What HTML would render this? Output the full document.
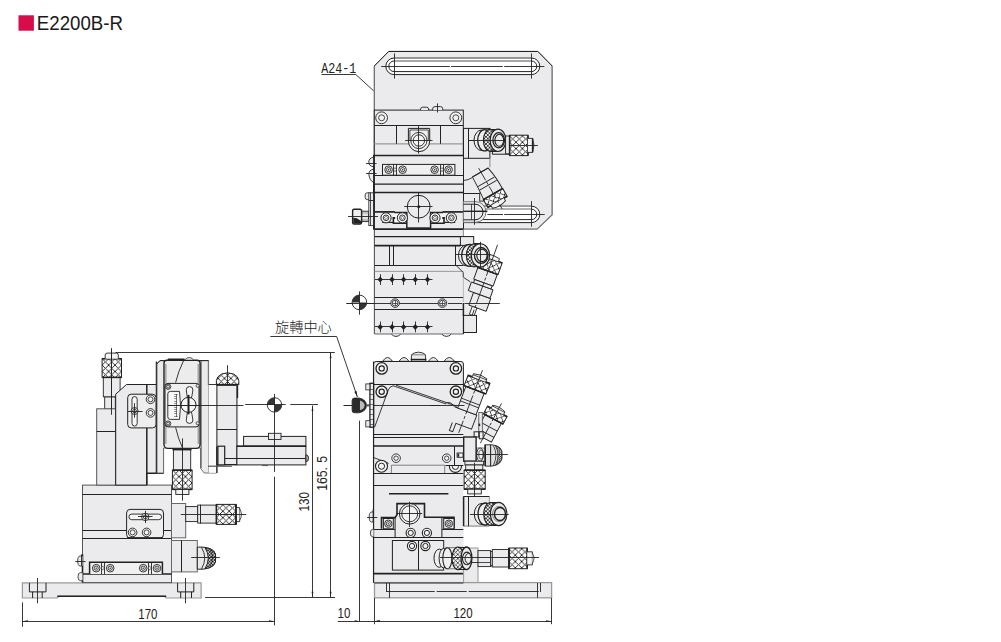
<!DOCTYPE html>
<html lang="zh-Hant">
<head>
<meta charset="utf-8">
<title>E2200B-R</title>
<style>
html,body{margin:0;padding:0;background:#fff;}
body{width:1001px;height:642px;overflow:hidden;font-family:"Liberation Sans","Noto Sans CJK TC",sans-serif;}
svg{display:block;}
</style>
</head>
<body>
<svg width="1001" height="642" viewBox="0 0 1001 642">
<defs>
<pattern id="h1" width="3.6" height="3.6" patternUnits="userSpaceOnUse"><rect width="3.6" height="3.6" fill="#f4f4f4"/><path d="M0,0L3.6,3.6 M3.6,0L0,3.6" stroke="#222" stroke-width="0.8" stroke-linecap="square"/></pattern>
<pattern id="k2" x="509.6" y="142.2" width="6.4" height="6.4" patternUnits="userSpaceOnUse"><rect width="6.4" height="6.4" fill="#fbfbfb"/><path d="M0,0L6.4,6.4 M6.4,0L0,6.4" stroke="#222" stroke-width="0.9" stroke-linecap="square"/></pattern>
<pattern id="k3" x="-3.2" y="28.6" width="6.4" height="6.4" patternUnits="userSpaceOnUse"><rect width="6.4" height="6.4" fill="#fbfbfb"/><path d="M0,0L6.4,6.4 M6.4,0L0,6.4" stroke="#222" stroke-width="0.9" stroke-linecap="square"/></pattern>
<pattern id="k4" x="-3.2" y="12.5" width="6.4" height="6.4" patternUnits="userSpaceOnUse"><rect width="6.4" height="6.4" fill="#fbfbfb"/><path d="M0,0L6.4,6.4 M6.4,0L0,6.4" stroke="#222" stroke-width="0.9" stroke-linecap="square"/></pattern>
<pattern id="h5" width="3.6" height="3.6" patternUnits="userSpaceOnUse"><rect width="3.6" height="3.6" fill="#f4f4f4"/><path d="M0,0L3.6,3.6 M3.6,0L0,3.6" stroke="#222" stroke-width="0.8" stroke-linecap="square"/></pattern>
<pattern id="k6" x="-3.2" y="0" width="6.4" height="6.4" patternUnits="userSpaceOnUse"><rect width="6.4" height="6.4" fill="#fbfbfb"/><path d="M0,0L6.4,6.4 M6.4,0L0,6.4" stroke="#222" stroke-width="0.9" stroke-linecap="square"/></pattern>
<pattern id="k7" x="-3.2" y="8.7" width="6.4" height="6.4" patternUnits="userSpaceOnUse"><rect width="6.4" height="6.4" fill="#fbfbfb"/><path d="M0,0L6.4,6.4 M6.4,0L0,6.4" stroke="#222" stroke-width="0.9" stroke-linecap="square"/></pattern>
<clipPath id="cpS"><rect x="440" y="465" width="30" height="10"/></clipPath>
<pattern id="h8" width="2.2" height="2.2" patternUnits="userSpaceOnUse"><rect width="2.2" height="2.2" fill="#ddd"/><path d="M0,0L2.2,2.2 M2.2,0L0,2.2" stroke="#222" stroke-width="0.6" stroke-linecap="square"/></pattern>
<pattern id="k9" x="471.45" y="470.2" width="6.4" height="6.4" patternUnits="userSpaceOnUse"><rect width="6.4" height="6.4" fill="#fbfbfb"/><path d="M0,0L6.4,6.4 M6.4,0L0,6.4" stroke="#222" stroke-width="0.9" stroke-linecap="square"/></pattern>
<pattern id="h10" width="3.6" height="3.6" patternUnits="userSpaceOnUse"><rect width="3.6" height="3.6" fill="#f4f4f4"/><path d="M0,0L3.6,3.6 M3.6,0L0,3.6" stroke="#222" stroke-width="0.8" stroke-linecap="square"/></pattern>
<pattern id="h11" width="4.2" height="4.2" patternUnits="userSpaceOnUse"><rect width="4.2" height="4.2" fill="#f2f2f2"/><path d="M0,0L4.2,4.2 M4.2,0L0,4.2" stroke="#222" stroke-width="0.7" stroke-linecap="square"/></pattern>
<pattern id="k12" x="508.9" y="555.15" width="6.4" height="6.4" patternUnits="userSpaceOnUse"><rect width="6.4" height="6.4" fill="#fbfbfb"/><path d="M0,0L6.4,6.4 M6.4,0L0,6.4" stroke="#222" stroke-width="0.9" stroke-linecap="square"/></pattern>
<pattern id="h13" width="3.2" height="3.2" patternUnits="userSpaceOnUse"><rect width="3.2" height="3.2" fill="#e0e0e0"/><path d="M0,0L3.2,3.2 M3.2,0L0,3.2" stroke="#222" stroke-width="0.8" stroke-linecap="square"/></pattern>
<pattern id="k14" x="216.4" y="511.2" width="6.4" height="6.4" patternUnits="userSpaceOnUse"><rect width="6.4" height="6.4" fill="#fbfbfb"/><path d="M0,0L6.4,6.4 M6.4,0L0,6.4" stroke="#222" stroke-width="0.9" stroke-linecap="square"/></pattern>
<pattern id="k15" x="108.6" y="358.7" width="6.4" height="6.4" patternUnits="userSpaceOnUse"><rect width="6.4" height="6.4" fill="#fbfbfb"/><path d="M0,0L6.4,6.4 M6.4,0L0,6.4" stroke="#222" stroke-width="0.9" stroke-linecap="square"/></pattern>
<pattern id="k16" x="179.05" y="470.2" width="6.4" height="6.4" patternUnits="userSpaceOnUse"><rect width="6.4" height="6.4" fill="#fbfbfb"/><path d="M0,0L6.4,6.4 M6.4,0L0,6.4" stroke="#222" stroke-width="0.9" stroke-linecap="square"/></pattern>
<clipPath id="cpD"><path d="M216.4,384.9 V380.4 Q216.8,376.4 221.6,374 Q227.6,371.6 233.6,374 Q238.4,376.4 238.8,380.4 V384.9 Z"/></clipPath>
<pattern id="k17" x="224.4" y="372" width="6.4" height="6.4" patternUnits="userSpaceOnUse"><rect width="6.4" height="6.4" fill="#fbfbfb"/><path d="M0,0L6.4,6.4 M6.4,0L0,6.4" stroke="#222" stroke-width="0.9" stroke-linecap="square"/></pattern>
</defs>
<rect x="18.5" y="15.3" width="15.4" height="15.4" fill="#d60c4b"/>
<text transform="translate(36.8 29.8) scale(0.89 1)" font-family="&quot;Liberation Sans&quot;, sans-serif" font-size="21" text-anchor="start" fill="#1a1a1a">E2200B-R</text>
<path d="M374.3,66 L388.8,51.3 L537.7,51.3 L552.2,66 L552.2,214.8 L537.2,229.1 L374.3,229.1 Z" fill="#ebebed" stroke="#777" stroke-width="0.8"/>
<line x1="374.3" y1="66" x2="388.8" y2="51.3" stroke="#222" stroke-width="1"/>
<line x1="388.8" y1="51.5" x2="537.7" y2="51.5" stroke="#222" stroke-width="1"/>
<line x1="537.7" y1="51.3" x2="552.2" y2="66" stroke="#222" stroke-width="1"/>
<line x1="374.3" y1="66" x2="374.3" y2="156" stroke="#666" stroke-width="1"/>
<line x1="552.2" y1="66" x2="552.2" y2="214.8" stroke="#8a8a8a" stroke-width="1.6"/>
<line x1="552.2" y1="214.8" x2="537.2" y2="229.1" stroke="#777" stroke-width="1.2"/>
<line x1="463" y1="229.1" x2="537.2" y2="229.1" stroke="#8a8a8a" stroke-width="1.4"/>
<path d="M394.1,58 H531.5 A8.3,8.3 0 0 1 531.5,74.6 H394.1 A8.3,8.3 0 0 1 394.1,58 Z" fill="#fff" stroke="#222" stroke-width="1"/>
<path d="M394.1,61 H531.5 A5.3,5.3 0 0 1 531.5,71.6 H394.1 A5.3,5.3 0 0 1 394.1,61 Z" fill="#fff" stroke="#222" stroke-width="1"/>
<line x1="394.1" y1="58" x2="531.5" y2="58" stroke="#9a9a9a" stroke-width="1.6"/>
<line x1="394.1" y1="61" x2="531.5" y2="61" stroke="#b0b0b0" stroke-width="1.4"/>
<line x1="381.2" y1="66.5" x2="544.4" y2="66.5" stroke="#222" stroke-width="0.9" stroke-dasharray="68.6 1.4 51.6 1.4 41"/>
<line x1="394.5" y1="53.4" x2="394.5" y2="78.6" stroke="#222" stroke-width="0.9"/>
<line x1="531.5" y1="53.4" x2="531.5" y2="78.6" stroke="#222" stroke-width="0.9"/>
<path d="M394.1,206.2 H531.6 A8.2,8.2 0 0 1 531.6,222.6 H394.1 A8.2,8.2 0 0 1 394.1,206.2 Z" fill="#fff" stroke="#222" stroke-width="1"/>
<path d="M394.1,209.2 H531.6 A5.2,5.2 0 0 1 531.6,219.6 H394.1 A5.2,5.2 0 0 1 394.1,209.2 Z" fill="#fff" stroke="#222" stroke-width="1"/>
<line x1="394.1" y1="206.2" x2="531.6" y2="206.2" stroke="#9a9a9a" stroke-width="1.6"/>
<line x1="394.1" y1="209.2" x2="531.6" y2="209.2" stroke="#b0b0b0" stroke-width="1.4"/>
<line x1="487.4" y1="214.5" x2="544.7" y2="214.5" stroke="#222" stroke-width="0.9" stroke-dasharray="15.6 1.2 41"/>
<line x1="531.5" y1="201.1" x2="531.5" y2="226.7" stroke="#222" stroke-width="0.9"/>
<text transform="translate(321.3 73) scale(0.78 1)" font-family="&quot;Liberation Mono&quot;, monospace" font-size="14.9" text-anchor="start" fill="#222">A24-1</text>
<line x1="321.5" y1="74.5" x2="355.8" y2="74.5" stroke="#222" stroke-width="0.9"/>
<line x1="355.8" y1="74.5" x2="373.6" y2="90.8" stroke="#222" stroke-width="0.9"/>
<rect x="374.3" y="110.1" width="89" height="45.4" fill="#ebebed" stroke="#222" stroke-width="1"/>
<line x1="374.3" y1="125.5" x2="463.3" y2="125.5" stroke="#222" stroke-width="1"/>
<line x1="374.3" y1="143.8" x2="463.3" y2="143.8" stroke="#999" stroke-width="1.3"/>
<line x1="396.5" y1="125.1" x2="396.5" y2="143.8" stroke="#222" stroke-width="1"/>
<line x1="440.5" y1="125.1" x2="440.5" y2="143.8" stroke="#222" stroke-width="1"/>
<circle cx="381.6" cy="117.8" r="5.9" fill="#f2f2f2" stroke="#222" stroke-width="0.9"/>
<circle cx="381.6" cy="117.8" r="3" fill="none" stroke="#222" stroke-width="0.81"/>
<circle cx="455.8" cy="117.8" r="5.9" fill="#f2f2f2" stroke="#222" stroke-width="0.9"/>
<circle cx="455.8" cy="117.8" r="3" fill="none" stroke="#222" stroke-width="0.81"/>
<path d="M420.6,110.1 V109 A2,2 0 0 1 422.6,107.2 H426.6 A2,2 0 0 1 428.6,109 V110.1" fill="#ebebed" stroke="#222" stroke-width="0.9"/>
<path d="M432.7,110.1 V108.8 A2.2,2.2 0 0 1 434.9,106.6 H440.5 A2.2,2.2 0 0 1 442.7,108.8 V110.1" fill="#ebebed" stroke="#222" stroke-width="0.9"/>
<line x1="437.5" y1="103.4" x2="437.5" y2="112.5" stroke="#222" stroke-width="0.9"/>
<path d="M408.4,128.4 H429.7 V141 A10.65,10.65 0 0 1 408.4,141 Z" fill="#f0f0f0" stroke="#222" stroke-width="1"/>
<path d="M409.9,140 V130 H428.3 V140" fill="none" stroke="#222" stroke-width="0.8"/>
<circle cx="418.9" cy="140.5" r="8.1" fill="#f4f4f4" stroke="#222" stroke-width="0.9"/>
<circle cx="418.9" cy="140.5" r="5.7" fill="none" stroke="#222" stroke-width="0.9"/>
<line x1="405.2" y1="140.5" x2="432.5" y2="140.5" stroke="#222" stroke-width="0.9"/>
<line x1="418.5" y1="126.1" x2="418.5" y2="153.6" stroke="#222" stroke-width="0.9"/>
<rect x="463.5" y="128.4" width="26.4" height="29.9" fill="#ebebed" stroke="#222" stroke-width="1"/>
<line x1="468.5" y1="128.4" x2="468.5" y2="158.3" stroke="#222" stroke-width="1"/>
<line x1="489.9" y1="158.3" x2="489.9" y2="167.3" stroke="#999" stroke-width="1.2"/>
<line x1="468.7" y1="140.5" x2="509.8" y2="140.5" stroke="#222" stroke-width="0.9"/>
<ellipse cx="481.5" cy="140.3" rx="7.5" ry="10.2" fill="#efefef" stroke="#222" stroke-width="1"/>
<ellipse cx="484.7" cy="140.3" rx="7" ry="10.6" fill="#efefef" stroke="#222" stroke-width="1.3"/>
<rect x="490" y="129.2" width="8" height="22.2" fill="url(#h1)"/>
<ellipse cx="490" cy="140.3" rx="6.6" ry="11" fill="url(#h1)" stroke="#222" stroke-width="1.1"/>
<line x1="490" y1="129.5" x2="498" y2="129.5" stroke="#222" stroke-width="1"/>
<line x1="490" y1="151.5" x2="498" y2="151.5" stroke="#222" stroke-width="1"/>
<ellipse cx="498" cy="140.3" rx="7.9" ry="11.2" fill="#ececec" stroke="#222" stroke-width="1.2"/>
<ellipse cx="498.7" cy="140.3" rx="5.8" ry="7.6" fill="#ececec" stroke="#222" stroke-width="1.3"/>
<ellipse cx="499.3" cy="140.3" rx="4.4" ry="6" fill="#ececec" stroke="#222" stroke-width="1.1"/>
<line x1="468.7" y1="140.5" x2="509.8" y2="140.5" stroke="#222" stroke-width="0.9"/>
<path d="M492.4,151 V154.2 H509.6" fill="none" stroke="#222" stroke-width="1"/>
<rect x="505.6" y="136" width="4" height="17.8" fill="#ebebed" stroke="#222" stroke-width="0.9"/>
<rect x="509.6" y="135.2" width="18.4" height="20.4" fill="url(#k2)" stroke="#222" stroke-width="1"/>
<line x1="509.6" y1="135.2" x2="509.6" y2="155.6" stroke="#222" stroke-width="1.5"/>
<line x1="528" y1="135.2" x2="528" y2="155.6" stroke="#222" stroke-width="1.5"/>
<line x1="509.6" y1="145.5" x2="527.9" y2="145.5" stroke="#222" stroke-width="0.9"/>
<path d="M527.9,138.4 H532.6 V152.4 H527.9" fill="#f4f4f4" stroke="#222" stroke-width="0.9"/>
<path d="M532.6,139.4 Q535.6,145.3 532.6,151.4 Z" fill="#c8c8c8" stroke="#222" stroke-width="0.8"/>
<line x1="532.6" y1="138.4" x2="532.6" y2="152.4" stroke="#222" stroke-width="1.5"/>
<line x1="527.9" y1="145.5" x2="537.9" y2="145.5" stroke="#222" stroke-width="0.9"/>
<rect x="373.6" y="155.5" width="89.7" height="73.5" fill="#ebebed"/>
<line x1="373.2" y1="155.5" x2="463.3" y2="155.5" stroke="#222" stroke-width="1.5"/>
<line x1="373.8" y1="155.5" x2="373.8" y2="228.8" stroke="#222" stroke-width="1.6"/>
<line x1="463.5" y1="155.5" x2="463.5" y2="228.8" stroke="#222" stroke-width="1"/>
<line x1="373.6" y1="175.5" x2="463.3" y2="175.5" stroke="#222" stroke-width="1"/>
<line x1="373.6" y1="184.2" x2="463.3" y2="184.2" stroke="#222" stroke-width="1.3"/>
<line x1="373.6" y1="192.5" x2="463.3" y2="192.5" stroke="#222" stroke-width="1.3"/>
<line x1="373.2" y1="229" x2="463.3" y2="229" stroke="#222" stroke-width="1.7"/>
<rect x="382.5" y="164.4" width="72.4" height="10.8" fill="#f0f0f0" stroke="#222" stroke-width="1"/>
<line x1="393.5" y1="164.4" x2="393.5" y2="175.2" stroke="#222" stroke-width="0.9"/>
<line x1="396.5" y1="164.4" x2="396.5" y2="175.2" stroke="#222" stroke-width="0.9"/>
<line x1="440.5" y1="164.4" x2="440.5" y2="175.2" stroke="#222" stroke-width="0.9"/>
<line x1="443.5" y1="164.4" x2="443.5" y2="175.2" stroke="#222" stroke-width="0.9"/>
<path d="M395,167.5 l1.3,2.2 l-1.3,2.2 l-1.3,-2.2 Z" fill="#fff" stroke="#222" stroke-width="0.5"/>
<path d="M441.95,167.5 l1.3,2.2 l-1.3,2.2 l-1.3,-2.2 Z" fill="#fff" stroke="#222" stroke-width="0.5"/>
<circle cx="388.6" cy="169.7" r="3.8" fill="#eee" stroke="#222" stroke-width="0.9"/>
<circle cx="388.6" cy="169.7" r="2.1" fill="none" stroke="#222" stroke-width="0.81"/>
<circle cx="388.6" cy="169.7" r="0.7" fill="#222"/>
<circle cx="402.6" cy="169.7" r="3.8" fill="#eee" stroke="#222" stroke-width="0.9"/>
<circle cx="402.6" cy="169.7" r="2.1" fill="none" stroke="#222" stroke-width="0.81"/>
<circle cx="402.6" cy="169.7" r="0.7" fill="#222"/>
<circle cx="434.6" cy="169.7" r="3.8" fill="#eee" stroke="#222" stroke-width="0.9"/>
<circle cx="434.6" cy="169.7" r="2.1" fill="none" stroke="#222" stroke-width="0.81"/>
<circle cx="434.6" cy="169.7" r="0.7" fill="#222"/>
<circle cx="448.6" cy="169.7" r="3.8" fill="#eee" stroke="#222" stroke-width="0.9"/>
<circle cx="448.6" cy="169.7" r="2.1" fill="none" stroke="#222" stroke-width="0.81"/>
<circle cx="448.6" cy="169.7" r="0.7" fill="#222"/>
<path d="M373.6,157 Q368.6,158.2 368.8,162.4 Q368.8,166 373.6,166.8" fill="#ebebed" stroke="#222" stroke-width="0.9"/>
<path d="M373.6,169.1 Q368.8,170 368.9,174.5 Q369.6,181 373.6,182.3" fill="#ebebed" stroke="#222" stroke-width="0.9"/>
<line x1="366.1" y1="163.5" x2="376.6" y2="163.5" stroke="#222" stroke-width="0.9"/>
<line x1="366.1" y1="173.5" x2="376.6" y2="173.5" stroke="#222" stroke-width="0.9"/>
<path d="M370.4,192.8 H367.2 A2,2 0 0 0 365.2,194.8 V197.6 A2,2 0 0 0 367.2,199.6 H370.4" fill="#ebebed" stroke="#333" stroke-width="0.9"/>
<rect x="368.8" y="192.8" width="5.2" height="32.8" fill="#ebebed" stroke="#333" stroke-width="0.9"/>
<line x1="370.5" y1="192.8" x2="370.5" y2="225.6" stroke="#222" stroke-width="0.8"/>
<line x1="368.8" y1="200.5" x2="374" y2="200.5" stroke="#222" stroke-width="0.9"/>
<line x1="374" y1="155.5" x2="374" y2="229.4" stroke="#222" stroke-width="1.7"/>
<circle cx="418.7" cy="206.7" r="11.4" fill="none" stroke="#222" stroke-width="1"/>
<line x1="404.2" y1="206.5" x2="432.5" y2="206.5" stroke="#222" stroke-width="0.9"/>
<line x1="418.5" y1="192.3" x2="418.5" y2="222.5" stroke="#222" stroke-width="0.9"/>
<path d="M418.7,204.7 l2,2 l-2,2 l-2,-2 Z" fill="#222"/>
<rect x="393.2" y="212.4" width="13.6" height="10.8" fill="#f7f7f7"/>
<path d="M374,211.9 H394.8" fill="none" stroke="#222" stroke-width="1.7"/>
<path d="M394.2,212.5 H406.8 V228.4" fill="none" stroke="#222" stroke-width="1.5"/>
<path d="M382.2,222.4 H393" fill="none" stroke="#222" stroke-width="1.2"/>
<path d="M393.4,217 V223.2 H406.8" fill="none" stroke="#222" stroke-width="1.6"/>
<circle cx="386" cy="217.8" r="5.1" fill="#f4f4f4" stroke="#222" stroke-width="1"/>
<circle cx="386" cy="217.8" r="2.8" fill="none" stroke="#222" stroke-width="0.9"/>
<path d="M386,216.2 l1.6,1.6 l-1.6,1.6 l-1.6,-1.6 Z" fill="#fff" stroke="#222" stroke-width="0.6"/>
<circle cx="402.4" cy="217.8" r="5.1" fill="#f4f4f4" stroke="#222" stroke-width="1"/>
<circle cx="402.4" cy="217.8" r="2.8" fill="none" stroke="#222" stroke-width="0.9"/>
<path d="M402.4,216.2 l1.6,1.6 l-1.6,1.6 l-1.6,-1.6 Z" fill="#fff" stroke="#222" stroke-width="0.6"/>
<rect x="392.9" y="217" width="2.2" height="2" fill="#222"/>
<rect x="430.6" y="212.4" width="13.6" height="10.8" fill="#f7f7f7"/>
<path d="M463.4,211.9 H442.6" fill="none" stroke="#222" stroke-width="1.7"/>
<path d="M443.2,212.5 H430.6 V228.4" fill="none" stroke="#222" stroke-width="1.5"/>
<path d="M455.2,222.4 H444.4" fill="none" stroke="#222" stroke-width="1.2"/>
<path d="M444,217 V223.2 H430.6" fill="none" stroke="#222" stroke-width="1.6"/>
<circle cx="451.4" cy="217.8" r="5.1" fill="#f4f4f4" stroke="#222" stroke-width="1"/>
<circle cx="451.4" cy="217.8" r="2.8" fill="none" stroke="#222" stroke-width="0.9"/>
<path d="M451.4,216.2 l1.6,1.6 l-1.6,1.6 l-1.6,-1.6 Z" fill="#fff" stroke="#222" stroke-width="0.6"/>
<circle cx="435" cy="217.8" r="5.1" fill="#f4f4f4" stroke="#222" stroke-width="1"/>
<circle cx="435" cy="217.8" r="2.8" fill="none" stroke="#222" stroke-width="0.9"/>
<path d="M435,216.2 l1.6,1.6 l-1.6,1.6 l-1.6,-1.6 Z" fill="#fff" stroke="#222" stroke-width="0.6"/>
<rect x="442.3" y="217" width="2.2" height="2" fill="#222"/>
<line x1="406.8" y1="228.2" x2="430.6" y2="228.2" stroke="#222" stroke-width="1.8"/>
<rect x="361.6" y="211.2" width="6.8" height="10.4" fill="#e6e6e6" stroke="#222" stroke-width="0.9"/>
<line x1="361.6" y1="213" x2="368.4" y2="213" stroke="#aaa" stroke-width="1.2"/>
<line x1="361.6" y1="220" x2="368.4" y2="220" stroke="#999" stroke-width="1.2"/>
<path d="M354.1,209.2 H360.1 A1.5,1.5 0 0 1 361.6,210.7 V222.5 A1.5,1.5 0 0 1 360.1,224 H354.1 A1.5,1.5 0 0 1 352.6,222.5 V210.7 A1.5,1.5 0 0 1 354.1,209.2 Z" fill="#f0f0f0" stroke="#222" stroke-width="1.4"/>
<path d="M353.3,217.8 L356.8,218.2 L361,221 V223.4 H353.3 Z" fill="#222"/>
<line x1="348" y1="216.5" x2="378" y2="216.5" stroke="#222" stroke-width="0.9"/>
<line x1="463.3" y1="193.5" x2="483.4" y2="193.5" stroke="#222" stroke-width="1"/>
<rect x="479.7" y="193" width="3.7" height="8.1" fill="#ebebed" stroke="#222" stroke-width="0.9"/>
<path d="M463.3,201.7 H476 A10,10.3 0 0 1 476,222.3 H463.3 Z" fill="#ebebed" stroke="#777" stroke-width="1"/>
<path d="M463.3,204.2 H475 A8,7.8 0 0 1 475,219.8 H463.3" fill="none" stroke="#222" stroke-width="1"/>
<line x1="463.3" y1="211.3" x2="487.4" y2="211.3" stroke="#222" stroke-width="1.4"/>
<line x1="474.5" y1="198" x2="474.5" y2="224.8" stroke="#222" stroke-width="0.9"/>
<line x1="471.5" y1="204.2" x2="471.5" y2="219.8" stroke="#222" stroke-width="0.8"/>
<g transform="translate(478.7 169.3) rotate(-30)">
<path d="M-9.3,3.7 H8.8 Q11.5,17 10.8,29 H-10.8 Q-9.6,16 -9.3,3.7 Z" fill="#ebebed" stroke="#222" stroke-width="0.9"/>
<line x1="-9.3" y1="3.5" x2="8.8" y2="3.5" stroke="#222" stroke-width="0.9"/>
<line x1="-9.4" y1="14.5" x2="9.6" y2="14.5" stroke="#222" stroke-width="0.9"/>
<line x1="-9.6" y1="18.5" x2="10" y2="18.5" stroke="#222" stroke-width="0.9"/>
<rect x="-11.2" y="28.6" width="22.4" height="9" fill="url(#k3)" stroke="#222" stroke-width="1"/>
<line x1="-11.2" y1="28.6" x2="11.2" y2="28.6" stroke="#222" stroke-width="1.5"/>
<line x1="-11.2" y1="37.6" x2="11.2" y2="37.6" stroke="#222" stroke-width="1.5"/>
<path d="M-7.5,37.6 V40.6 Q0,43.4 7.5,40.6 V37.6" fill="#f4f4f4" stroke="#222" stroke-width="0.9"/>
<line x1="0.5" y1="-1" x2="0.5" y2="46" stroke="#222" stroke-width="0.8" stroke-dasharray="14 2 3 2"/>
</g>
<path d="M463.3,180.5 Q468,180.3 472.3,177.6" fill="none" stroke="#222" stroke-width="0.9"/>
<path d="M463.4,258 L482,258 L469,316 L463.4,316 Z" fill="#ebebed"/>
<g transform="translate(496.1 247.4) rotate(19.8)">
<line x1="0.5" y1="-3" x2="0.5" y2="80" stroke="#222" stroke-width="0.8" stroke-dasharray="22 2 3 2"/>
<rect x="-6" y="50" width="18.3" height="13.5" fill="#ebebed" stroke="#222" stroke-width="0.9"/>
<rect x="-2.5" y="63.5" width="5" height="8.5" fill="#f2f2f2" stroke="#222" stroke-width="0.8"/>
<rect x="-10.3" y="25" width="20.6" height="12.5" fill="#ebebed" stroke="#222" stroke-width="0.9"/>
<rect x="-9.3" y="37.5" width="18.6" height="3.5" fill="#ebebed" stroke="#222" stroke-width="0.9"/>
<rect x="-11.5" y="41" width="23" height="9" fill="#ebebed" stroke="#222" stroke-width="0.9"/>
<rect x="-11" y="12.5" width="22" height="12.5" fill="url(#k4)" stroke="#222" stroke-width="1"/>
<line x1="-11" y1="12.5" x2="11" y2="12.5" stroke="#222" stroke-width="1.5"/>
<line x1="-11" y1="25" x2="11" y2="25" stroke="#222" stroke-width="1.5"/>
<path d="M-7,12.5 V9.5 Q0,7.5 7,9.5 V12.5" fill="#f4f4f4" stroke="#222" stroke-width="0.8"/>
<line x1="0.5" y1="8" x2="0.5" y2="76" stroke="#222" stroke-width="0.8" stroke-dasharray="22 2 3 2"/>
</g>
<rect x="374.6" y="229.1" width="88.8" height="104.9" fill="#ebebed"/>
<line x1="374.4" y1="229" x2="374.4" y2="334" stroke="#555" stroke-width="1.1"/>
<line x1="463.4" y1="229" x2="463.4" y2="236.6" stroke="#999" stroke-width="1.2"/>
<line x1="374.6" y1="229.5" x2="463.4" y2="229.5" stroke="#222" stroke-width="1"/>
<line x1="374.6" y1="236.6" x2="473.8" y2="236.6" stroke="#222" stroke-width="1.4"/>
<rect x="460.4" y="236.6" width="13.3" height="8.8" fill="#ebebed" stroke="#222" stroke-width="1"/>
<line x1="374.6" y1="245.6" x2="460.5" y2="245.6" stroke="#222" stroke-width="1.6"/>
<line x1="374.6" y1="265.5" x2="463.4" y2="265.5" stroke="#222" stroke-width="1"/>
<line x1="374.6" y1="271.4" x2="463.4" y2="271.4" stroke="#888" stroke-width="0.8"/>
<line x1="374.6" y1="297.5" x2="463.4" y2="297.5" stroke="#222" stroke-width="1"/>
<line x1="374.6" y1="309.5" x2="463.4" y2="309.5" stroke="#222" stroke-width="1"/>
<line x1="374.6" y1="334" x2="463.4" y2="334" stroke="#666" stroke-width="1.2"/>
<line x1="389.5" y1="245.6" x2="389.5" y2="265.2" stroke="#222" stroke-width="1"/>
<line x1="393.5" y1="245.6" x2="393.5" y2="265.2" stroke="#222" stroke-width="1"/>
<line x1="455.5" y1="245.6" x2="455.5" y2="265.2" stroke="#222" stroke-width="1"/>
<path d="M456.2,265.5 L463.25,272.5 V277.2 L470.3,281.9" fill="none" stroke="#222" stroke-width="0.9"/>
<line x1="463.5" y1="245.6" x2="463.5" y2="265.2" stroke="#222" stroke-width="1"/>
<line x1="463.4" y1="277.2" x2="463.4" y2="302" stroke="#aaa" stroke-width="0.8"/>
<line x1="463.4" y1="303" x2="463.4" y2="316" stroke="#222" stroke-width="1.5"/>
<rect x="463.4" y="315.4" width="13.1" height="17.1" fill="#ebebed" stroke="#222" stroke-width="1"/>
<line x1="463.5" y1="314.7" x2="463.5" y2="334" stroke="#222" stroke-width="1.1"/>
<line x1="375" y1="279.5" x2="432.5" y2="279.5" stroke="#222" stroke-width="0.9"/>
<line x1="380.5" y1="274.2" x2="380.5" y2="285" stroke="#222" stroke-width="0.9"/>
<path d="M380.2,276.6 l2.7,3 l-2.7,3 l-2.7,-3 Z" fill="#222"/>
<line x1="392.5" y1="274.2" x2="392.5" y2="285" stroke="#222" stroke-width="0.9"/>
<path d="M392,276.6 l2.7,3 l-2.7,3 l-2.7,-3 Z" fill="#222"/>
<line x1="403.5" y1="274.2" x2="403.5" y2="285" stroke="#222" stroke-width="0.9"/>
<path d="M403.6,276.6 l2.7,3 l-2.7,3 l-2.7,-3 Z" fill="#222"/>
<line x1="415.5" y1="274.2" x2="415.5" y2="285" stroke="#222" stroke-width="0.9"/>
<path d="M415.3,276.6 l2.7,3 l-2.7,3 l-2.7,-3 Z" fill="#222"/>
<line x1="427.5" y1="274.2" x2="427.5" y2="285" stroke="#222" stroke-width="0.9"/>
<path d="M427.5,276.6 l2.7,3 l-2.7,3 l-2.7,-3 Z" fill="#222"/>
<line x1="375" y1="326.5" x2="432.5" y2="326.5" stroke="#222" stroke-width="0.9"/>
<line x1="380.5" y1="321.5" x2="380.5" y2="332.3" stroke="#222" stroke-width="0.9"/>
<path d="M380.2,323.9 l2.7,3 l-2.7,3 l-2.7,-3 Z" fill="#222"/>
<line x1="392.5" y1="321.5" x2="392.5" y2="332.3" stroke="#222" stroke-width="0.9"/>
<path d="M392,323.9 l2.7,3 l-2.7,3 l-2.7,-3 Z" fill="#222"/>
<line x1="403.5" y1="321.5" x2="403.5" y2="332.3" stroke="#222" stroke-width="0.9"/>
<path d="M403.6,323.9 l2.7,3 l-2.7,3 l-2.7,-3 Z" fill="#222"/>
<line x1="415.5" y1="321.5" x2="415.5" y2="332.3" stroke="#222" stroke-width="0.9"/>
<path d="M415.3,323.9 l2.7,3 l-2.7,3 l-2.7,-3 Z" fill="#222"/>
<line x1="427.5" y1="321.5" x2="427.5" y2="332.3" stroke="#222" stroke-width="0.9"/>
<path d="M427.5,323.9 l2.7,3 l-2.7,3 l-2.7,-3 Z" fill="#222"/>
<line x1="346.5" y1="303.5" x2="446" y2="303.5" stroke="#222" stroke-width="0.9"/>
<line x1="448" y1="303.5" x2="462" y2="303.5" stroke="#222" stroke-width="0.9"/>
<line x1="464.5" y1="303.5" x2="499.8" y2="303.5" stroke="#222" stroke-width="0.9"/>
<circle cx="395.1" cy="303.1" r="4.3" fill="#f4f4f4" stroke="#222" stroke-width="0.9"/>
<circle cx="395.1" cy="303.1" r="2.9" fill="none" stroke="#222" stroke-width="0.81"/>
<line x1="392.5" y1="303.5" x2="397.7" y2="303.5" stroke="#222" stroke-width="0.7"/>
<line x1="395.5" y1="300.5" x2="395.5" y2="305.7" stroke="#222" stroke-width="0.7"/>
<circle cx="442.4" cy="303.1" r="4.3" fill="#f4f4f4" stroke="#222" stroke-width="0.9"/>
<circle cx="442.4" cy="303.1" r="2.9" fill="none" stroke="#222" stroke-width="0.81"/>
<line x1="439.8" y1="303.5" x2="445" y2="303.5" stroke="#222" stroke-width="0.7"/>
<line x1="442.5" y1="300.5" x2="442.5" y2="305.7" stroke="#222" stroke-width="0.7"/>
<path d="M391.4,334.3 Q396,338.6 400.6,334.3" fill="#ebebed" stroke="#222" stroke-width="0.9"/>
<path d="M441.9,334.3 Q446.5,338.6 451.1,334.3" fill="#ebebed" stroke="#222" stroke-width="0.9"/>
<circle cx="359.4" cy="302.4" r="7.3" fill="#fff" stroke="#222" stroke-width="0.9"/>
<path d="M359.4,302.4 L352.1,302.4 A7.3,7.3 0 0 1 359.4,295.1 Z" fill="#333"/>
<path d="M359.4,302.4 L366.7,302.4 A7.3,7.3 0 0 1 359.4,309.7 Z" fill="#333"/>
<line x1="346.5" y1="303.5" x2="374" y2="303.5" stroke="#222" stroke-width="0.9"/>
<line x1="359.5" y1="291.4" x2="359.5" y2="314.7" stroke="#222" stroke-width="0.9"/>
<ellipse cx="467.2" cy="255.4" rx="8.7" ry="10.61" fill="#efefef" stroke="#222" stroke-width="1"/>
<ellipse cx="469.76" cy="255.4" rx="8.12" ry="11.02" fill="#efefef" stroke="#222" stroke-width="1.3"/>
<rect x="474" y="243.86" width="6.4" height="23.09" fill="url(#h5)"/>
<ellipse cx="474" cy="255.4" rx="7.66" ry="11.44" fill="url(#h5)" stroke="#222" stroke-width="1.1"/>
<line x1="474" y1="243.5" x2="480.4" y2="243.5" stroke="#222" stroke-width="1"/>
<line x1="474" y1="266.5" x2="480.4" y2="266.5" stroke="#222" stroke-width="1"/>
<ellipse cx="480.4" cy="255.4" rx="9.16" ry="11.65" fill="#ececec" stroke="#222" stroke-width="1.2"/>
<ellipse cx="481.21" cy="255.4" rx="6.73" ry="7.9" fill="#ececec" stroke="#222" stroke-width="1.3"/>
<ellipse cx="481.91" cy="255.4" rx="5.1" ry="6.24" fill="#ececec" stroke="#222" stroke-width="1.1"/>
<line x1="455.9" y1="254.5" x2="490.5" y2="254.5" stroke="#222" stroke-width="0.9"/>
<line x1="480.5" y1="241.8" x2="480.5" y2="268.4" stroke="#222" stroke-width="0.9"/>
<path d="M373.6,364 A2.5,2.5 0 0 1 376.1,361.5 H460.9 A2.5,2.5 0 0 1 463.4,364 V583 H373.6 Z" fill="#ebebed"/>
<path d="M411.4,361.3 V356 Q411.6,353.6 414.5,352.9 Q418.5,351.4 422.5,352.9 Q425.4,353.6 425.6,356 V361.3" fill="#ebebed" stroke="#222" stroke-width="0.9"/>
<line x1="411.4" y1="354.8" x2="425.6" y2="354.8" stroke="#666" stroke-width="0.8"/>
<line x1="410.6" y1="359.6" x2="426.4" y2="359.6" stroke="#222" stroke-width="1.6"/>
<path d="M382.6,361.3 Q387.55,353.6 392.5,361.3 Z" fill="#ebebed" stroke="#222" stroke-width="0.9"/>
<path d="M399,361.3 Q404,353.6 409,361.3 Z" fill="#ebebed" stroke="#222" stroke-width="0.9"/>
<path d="M428.4,361.3 Q433.3,353.6 438.2,361.3 Z" fill="#ebebed" stroke="#222" stroke-width="0.9"/>
<path d="M444,361.3 Q449.3,353.6 454.6,361.3 Z" fill="#ebebed" stroke="#222" stroke-width="0.9"/>
<path d="M373.6,583 V364 A2.5,2.5 0 0 1 376.1,361.5 H460.9 A2.5,2.5 0 0 1 463.4,364 V392" fill="none" stroke="#222" stroke-width="1"/>
<line x1="373.5" y1="361.5" x2="373.5" y2="583" stroke="#222" stroke-width="1.1"/>
<circle cx="381.7" cy="368.4" r="5.7" fill="#f4f4f4" stroke="#222" stroke-width="1.3"/>
<circle cx="381.7" cy="368.4" r="2.6" fill="none" stroke="#222" stroke-width="1.17"/>
<circle cx="455.9" cy="368.4" r="5.7" fill="#f4f4f4" stroke="#222" stroke-width="1.3"/>
<circle cx="455.9" cy="368.4" r="2.6" fill="none" stroke="#222" stroke-width="1.17"/>
<circle cx="381.7" cy="391.7" r="5.7" fill="#f4f4f4" stroke="#222" stroke-width="1.3"/>
<circle cx="381.7" cy="391.7" r="2.6" fill="none" stroke="#222" stroke-width="1.17"/>
<circle cx="455.9" cy="391.7" r="5.7" fill="#f4f4f4" stroke="#222" stroke-width="1.3"/>
<circle cx="455.9" cy="391.7" r="2.6" fill="none" stroke="#222" stroke-width="1.17"/>
<line x1="373.6" y1="384.5" x2="463.4" y2="384.5" stroke="#222" stroke-width="1"/>
<path d="M374.6,427.2 L388.4,389.8 Q389.5,386.4 393.2,385.8 L456.1,407.4" fill="none" stroke="#222" stroke-width="0.9"/>
<path d="M396,385.2 L457,406.2 " fill="none" stroke="#222" stroke-width="0.9"/>
<line x1="343.7" y1="405.5" x2="352" y2="405.5" stroke="#222" stroke-width="0.9"/>
<line x1="366" y1="405.5" x2="440" y2="405.5" stroke="#222" stroke-width="0.9"/>
<path d="M445.3,403.4 q3.8,-2.6 7.6,1.4" fill="none" stroke="#222" stroke-width="0.8"/>
<g transform="translate(497.3 411.35) rotate(28)">
<rect x="-9.3" y="8.6" width="18.6" height="21.4" fill="#ebebed" stroke="#222" stroke-width="0.9"/>
<line x1="-9.3" y1="17.5" x2="9.3" y2="17.5" stroke="#222" stroke-width="0.9"/>
<line x1="-9.3" y1="24.5" x2="9.3" y2="24.5" stroke="#222" stroke-width="0.9"/>
<rect x="-11.1" y="0" width="22.2" height="8.6" fill="url(#k6)" stroke="#222" stroke-width="1"/>
<line x1="-11.1" y1="0" x2="11.1" y2="0" stroke="#222" stroke-width="1.5"/>
<line x1="-11.1" y1="8.6" x2="11.1" y2="8.6" stroke="#222" stroke-width="1.5"/>
<path d="M-7,0 V-3.2 Q0,-5.6 7,-3.2 V0" fill="#f4f4f4" stroke="#222" stroke-width="0.8"/>
<line x1="-7" y1="-2.5" x2="7" y2="-2.5" stroke="#222" stroke-width="0.7"/>
<line x1="0" y1="-9" x2="0" y2="36" stroke="#222" stroke-width="0.8" stroke-dasharray="20 2 3 2"/>
</g>
<rect x="463.4" y="418" width="15.4" height="19" fill="#ebebed"/>
<rect x="478.8" y="412.5" width="3.5" height="19.3" fill="#ebebed" stroke="#444" stroke-width="0.8"/>
<rect x="478.6" y="423.6" width="1.6" height="2.4" fill="#222"/>
<g transform="translate(482.1 371.2) rotate(20.8)">
<path d="M-22,43 H10.7 V58 H-6 V67 H-9.6 V58 H-22 Z" fill="#ebebed"/>
<path d="M-13,43 H10.7 V58 H-6 V67 H-9.6 V58.5" fill="none" stroke="#222" stroke-width="0.9"/>
<rect x="-9.8" y="19.9" width="19.6" height="23.1" fill="#ebebed" stroke="#222" stroke-width="0.9"/>
<line x1="-9.8" y1="32.5" x2="9.8" y2="32.5" stroke="#222" stroke-width="0.9"/>
<line x1="-9.8" y1="35.5" x2="9.8" y2="35.5" stroke="#222" stroke-width="0.9"/>
<rect x="-11.7" y="8.7" width="23.4" height="11.2" fill="url(#k7)" stroke="#222" stroke-width="1"/>
<line x1="-11.7" y1="8.7" x2="11.7" y2="8.7" stroke="#222" stroke-width="1.5"/>
<line x1="-11.7" y1="19.9" x2="11.7" y2="19.9" stroke="#222" stroke-width="1.5"/>
<path d="M-7.2,8.7 V5.4 Q0,3 7.2,5.4 V8.7" fill="#f4f4f4" stroke="#222" stroke-width="0.8"/>
<line x1="-7.2" y1="6.5" x2="7.2" y2="6.5" stroke="#222" stroke-width="0.7"/>
<line x1="0" y1="-1" x2="0" y2="66" stroke="#222" stroke-width="0.8" stroke-dasharray="20 2 3 2"/>
</g>
<rect x="474.1" y="431.8" width="4.7" height="5.2" fill="#f2f2f2" stroke="#222" stroke-width="1"/>
<rect x="479.3" y="431.8" width="3.8" height="7" fill="#f2f2f2" stroke="#222" stroke-width="1"/>
<line x1="430" y1="405.5" x2="464.5" y2="405.5" stroke="#222" stroke-width="0.9"/>
<rect x="369.9" y="383.3" width="3.7" height="43.9" fill="#f2f2f2" stroke="#222" stroke-width="1.3"/>
<line x1="369.9" y1="389.5" x2="373.6" y2="389.5" stroke="#222" stroke-width="0.6"/>
<line x1="369.9" y1="394.5" x2="373.6" y2="394.5" stroke="#222" stroke-width="0.6"/>
<line x1="369.9" y1="399.5" x2="373.6" y2="399.5" stroke="#222" stroke-width="0.6"/>
<line x1="369.9" y1="404.5" x2="373.6" y2="404.5" stroke="#222" stroke-width="0.6"/>
<line x1="369.9" y1="409.5" x2="373.6" y2="409.5" stroke="#222" stroke-width="0.6"/>
<line x1="369.9" y1="414.5" x2="373.6" y2="414.5" stroke="#222" stroke-width="0.6"/>
<line x1="369.9" y1="419.5" x2="373.6" y2="419.5" stroke="#222" stroke-width="0.6"/>
<line x1="369.9" y1="424.5" x2="373.6" y2="424.5" stroke="#222" stroke-width="0.6"/>
<rect x="365.8" y="383.9" width="4.1" height="6" fill="#ebebed" stroke="#222" stroke-width="0.8"/>
<rect x="365.8" y="420.7" width="4.1" height="6.2" fill="#ebebed" stroke="#222" stroke-width="0.8"/>
<path d="M354.6,398 H359 Q366.4,399.5 366.4,405.4 Q366.4,411.3 359,412.8 H354.6 A2.5,2.5 0 0 1 352.1,410.3 V400.5 A2.5,2.5 0 0 1 354.6,398 Z" fill="#2a2a2a" stroke="#222" stroke-width="0.8"/>
<path d="M360,400.5 Q364.4,402 364.6,405.4 Q364.4,408.8 360,410.3 Z" fill="#bbb"/>
<line x1="366.4" y1="405.4" x2="369.9" y2="405.4" stroke="#555" stroke-width="2.2"/>
<line x1="343.7" y1="405.5" x2="353" y2="405.5" stroke="#222" stroke-width="0.9"/>
<line x1="373.6" y1="434.5" x2="463.4" y2="434.5" stroke="#222" stroke-width="1"/>
<line x1="373.6" y1="437.5" x2="463.4" y2="437.5" stroke="#222" stroke-width="1"/>
<line x1="373.6" y1="446" x2="463.4" y2="446" stroke="#222" stroke-width="1.6"/>
<line x1="454.5" y1="446.4" x2="454.5" y2="465" stroke="#222" stroke-width="1"/>
<rect x="457.1" y="453" width="5.9" height="4.3" fill="#f4f4f4" stroke="#222" stroke-width="0.9"/>
<rect x="457.6" y="453.6" width="1.6" height="3.2" fill="#222"/>
<circle cx="396.1" cy="458.2" r="4.3" fill="#f4f4f4" stroke="#222" stroke-width="0.9"/>
<circle cx="396.1" cy="458.2" r="2.2" fill="none" stroke="#222" stroke-width="0.81"/>
<circle cx="446.7" cy="458.2" r="4.3" fill="#f4f4f4" stroke="#222" stroke-width="0.9"/>
<circle cx="446.7" cy="458.2" r="2.2" fill="none" stroke="#222" stroke-width="0.81"/>
<path d="M373.6,457.5 L388.6,463.4" fill="none" stroke="#222" stroke-width="0.9"/>
<circle cx="381.5" cy="466.2" r="6" fill="#f4f4f4" stroke="#222" stroke-width="1.1"/>
<circle cx="381.5" cy="466.2" r="3.1" fill="none" stroke="#222" stroke-width="0.99"/>
<g clip-path="url(#cpS)">
<circle cx="455.4" cy="466.4" r="6" fill="#f4f4f4" stroke="#222" stroke-width="1.1"/>
<circle cx="455.4" cy="466.4" r="3.1" fill="none" stroke="#222" stroke-width="0.99"/>
</g>
<line x1="445.5" y1="465.5" x2="463.4" y2="465.5" stroke="#222" stroke-width="1"/>
<path d="M391.4,473.3 V465.2 H444.7 V473.3" fill="none" stroke="#666" stroke-width="0.8"/>
<line x1="373.6" y1="473.5" x2="463.4" y2="473.5" stroke="#222" stroke-width="1"/>
<line x1="373.6" y1="485.5" x2="463.4" y2="485.5" stroke="#222" stroke-width="1"/>
<line x1="389" y1="493.8" x2="448.4" y2="493.8" stroke="#222" stroke-width="1.6"/>
<path d="M381.5,528.8 V517.6 H395.1 L397,514.8 V503.6 H424.5 V517.2 H454 V528.8" fill="none" stroke="#222" stroke-width="1.6"/>
<path d="M395.1,517.2 V537.6 M441.9,517.2 V537.6" fill="none" stroke="#222" stroke-width="1"/>
<line x1="373.6" y1="529.5" x2="395.1" y2="529.5" stroke="#222" stroke-width="1"/>
<line x1="441.9" y1="529.5" x2="463.4" y2="529.5" stroke="#222" stroke-width="1"/>
<circle cx="409.7" cy="513.8" r="10.3" fill="#f4f4f4" stroke="#222" stroke-width="1"/>
<circle cx="409.7" cy="513.8" r="8" fill="none" stroke="#222" stroke-width="0.9"/>
<line x1="396" y1="513.5" x2="422.2" y2="513.5" stroke="#222" stroke-width="0.9"/>
<line x1="409.5" y1="501.7" x2="409.5" y2="526.9" stroke="#222" stroke-width="0.9"/>
<rect x="383.4" y="518.5" width="9.9" height="10.3" fill="#f0f0f0" stroke="#222" stroke-width="1"/>
<rect x="443.7" y="518.5" width="10.3" height="10.3" fill="#f0f0f0" stroke="#222" stroke-width="1"/>
<circle cx="388.3" cy="523.7" r="3.7" fill="#eee" stroke="#222" stroke-width="0.9"/>
<circle cx="388.3" cy="523.7" r="2.1" fill="none" stroke="#222" stroke-width="0.81"/>
<circle cx="388.3" cy="523.7" r="0.7" fill="#222"/>
<circle cx="448.9" cy="523.7" r="3.7" fill="#eee" stroke="#222" stroke-width="0.9"/>
<circle cx="448.9" cy="523.7" r="2.1" fill="none" stroke="#222" stroke-width="0.81"/>
<circle cx="448.9" cy="523.7" r="0.7" fill="#222"/>
<circle cx="410.7" cy="532.9" r="4.6" fill="#f4f4f4" stroke="#222" stroke-width="1.1"/>
<circle cx="410.7" cy="532.9" r="2.6" fill="none" stroke="#222" stroke-width="0.99"/>
<circle cx="426.9" cy="532.9" r="4.6" fill="#f4f4f4" stroke="#222" stroke-width="1.1"/>
<circle cx="426.9" cy="532.9" r="2.6" fill="none" stroke="#222" stroke-width="0.99"/>
<circle cx="412" cy="546" r="4.6" fill="#f4f4f4" stroke="#222" stroke-width="1.1"/>
<circle cx="412" cy="546" r="2.6" fill="none" stroke="#222" stroke-width="0.99"/>
<circle cx="425.4" cy="546" r="4.6" fill="#f4f4f4" stroke="#222" stroke-width="1.1"/>
<circle cx="425.4" cy="546" r="2.6" fill="none" stroke="#222" stroke-width="0.99"/>
<line x1="373.6" y1="537.5" x2="463.4" y2="537.5" stroke="#222" stroke-width="1"/>
<rect x="392.4" y="540.5" width="51.3" height="29.6" fill="none" stroke="#222" stroke-width="1"/>
<line x1="418.5" y1="540.5" x2="418.5" y2="570.1" stroke="#222" stroke-width="1"/>
<line x1="373.6" y1="573.6" x2="463.4" y2="573.6" stroke="#222" stroke-width="1.7"/>
<path d="M373.6,512 h-2 a2.4,5 0 0 0 0,10 h2" fill="#ebebed" stroke="#222" stroke-width="0.8"/>
<line x1="367.1" y1="517.5" x2="377.4" y2="517.5" stroke="#222" stroke-width="0.9"/>
<line x1="373.3" y1="509.2" x2="373.3" y2="522.2" stroke="#222" stroke-width="1.3"/>
<path d="M373.6,529.3 h-1 a2.2,3.7 0 0 0 0,7.5 h1" fill="#ebebed" stroke="#222" stroke-width="0.8"/>
<rect x="476.1" y="448" width="9.1" height="13.4" fill="#ebebed" stroke="#555" stroke-width="0.8"/>
<ellipse cx="480.1" cy="454.6" rx="3.4" ry="6.6" fill="#f0f0f0" stroke="#222" stroke-width="0.9"/>
<ellipse cx="481" cy="454.6" rx="2.2" ry="4.6" fill="none" stroke="#222" stroke-width="0.7"/>
<path d="M490.6,444.8 H492 Q503.2,446 502,454.9 Q503.2,464.6 492,466.1 H490.6 Z" fill="#e2e2e2" stroke="#222" stroke-width="0.9"/>
<path d="M493.4,445.6 Q498.4,454.9 493.4,465.4" fill="none" stroke="#222" stroke-width="0.8"/>
<path d="M495.6,446 Q503,448.6 501.6,454.9 Q503,461.6 495.6,464.9 Q500.4,454.9 495.6,446 Z" fill="url(#h8)" stroke="#222" stroke-width="0.7"/>
<rect x="485.2" y="444.8" width="5.4" height="21.3" fill="#e0e0e0" stroke="#222" stroke-width="0.9"/>
<line x1="485.2" y1="444.8" x2="485.2" y2="466.1" stroke="#222" stroke-width="1.6"/>
<line x1="473" y1="454.5" x2="507.8" y2="454.5" stroke="#222" stroke-width="0.9"/>
<rect x="463.7" y="437" width="12.4" height="24.2" fill="#ebebed" stroke="#222" stroke-width="1.4"/>
<rect x="464.9" y="461.2" width="18.7" height="3.8" fill="#ebebed" stroke="#222" stroke-width="0.9"/>
<rect x="465.7" y="465" width="17.1" height="5.2" fill="#ebebed" stroke="#222" stroke-width="0.9"/>
<rect x="464.1" y="470.2" width="21.1" height="19" fill="url(#k9)" stroke="#222" stroke-width="1"/>
<line x1="464.1" y1="470.2" x2="485.2" y2="470.2" stroke="#222" stroke-width="1.5"/>
<line x1="464.1" y1="489.2" x2="485.2" y2="489.2" stroke="#222" stroke-width="1.5"/>
<rect x="467.7" y="489.2" width="13.6" height="4.7" fill="#f2f2f2" stroke="#222" stroke-width="0.9"/>
<line x1="474.5" y1="462.7" x2="474.5" y2="500.9" stroke="#222" stroke-width="0.9"/>
<rect x="463.4" y="496.5" width="26" height="29.6" fill="#ebebed"/>
<line x1="463.4" y1="526.1" x2="489.4" y2="526.1" stroke="#aaa" stroke-width="1.6"/>
<line x1="489.4" y1="496.5" x2="489.4" y2="526.1" stroke="#aaa" stroke-width="1.2"/>
<line x1="463.4" y1="496.5" x2="489.4" y2="496.5" stroke="#222" stroke-width="1"/>
<line x1="463.6" y1="496.5" x2="463.6" y2="526.1" stroke="#222" stroke-width="1.5"/>
<line x1="468.5" y1="496.5" x2="468.5" y2="526.1" stroke="#222" stroke-width="1"/>
<ellipse cx="482.1" cy="514" rx="7.8" ry="10.61" fill="#efefef" stroke="#222" stroke-width="1"/>
<ellipse cx="485.3" cy="514" rx="7.28" ry="11.02" fill="#efefef" stroke="#222" stroke-width="1.3"/>
<rect x="490.6" y="502.46" width="8" height="23.09" fill="url(#h10)"/>
<ellipse cx="490.6" cy="514" rx="6.86" ry="11.44" fill="url(#h10)" stroke="#222" stroke-width="1.1"/>
<line x1="490.6" y1="502.5" x2="498.6" y2="502.5" stroke="#222" stroke-width="1"/>
<line x1="490.6" y1="525.5" x2="498.6" y2="525.5" stroke="#222" stroke-width="1"/>
<ellipse cx="498.6" cy="514" rx="8.22" ry="11.65" fill="#ececec" stroke="#222" stroke-width="1.2"/>
<ellipse cx="499.33" cy="514" rx="6.86" ry="7.59" fill="#ececec" stroke="#666" stroke-width="0.8"/>
<ellipse cx="499.95" cy="514" rx="5.51" ry="6.55" fill="#ececec" stroke="#222" stroke-width="1.4"/>
<line x1="469.9" y1="514.5" x2="508.8" y2="514.5" stroke="#222" stroke-width="0.9"/>
<rect x="463.6" y="548" width="14.4" height="34.6" fill="#ebebed" stroke="#999" stroke-width="1"/>
<ellipse cx="439.3" cy="558.2" rx="5.3" ry="9.1" fill="#efefef" stroke="#222" stroke-width="1"/>
<ellipse cx="443.4" cy="558.2" rx="4.3" ry="9.7" fill="#efefef" stroke="#222" stroke-width="1"/>
<rect x="447.4" y="547.6" width="10" height="21.2" fill="#efefef"/>
<ellipse cx="447.4" cy="558.2" rx="4.6" ry="10.6" fill="#efefef" stroke="#222" stroke-width="1.1"/>
<line x1="447.4" y1="547.6" x2="457.4" y2="547.6" stroke="#777" stroke-width="1"/>
<line x1="447.4" y1="568.8" x2="457.4" y2="568.8" stroke="#777" stroke-width="1"/>
<rect x="458" y="547" width="8.5" height="22.6" fill="url(#h11)"/>
<ellipse cx="458" cy="558.3" rx="6" ry="11.3" fill="url(#h11)" stroke="#222" stroke-width="1.2"/>
<line x1="458" y1="547.5" x2="466.5" y2="547.5" stroke="#222" stroke-width="1.1"/>
<line x1="458" y1="569.5" x2="466.5" y2="569.5" stroke="#222" stroke-width="1.1"/>
<ellipse cx="466.5" cy="558.3" rx="5.4" ry="11.3" fill="#ececec" stroke="#222" stroke-width="1.3"/>
<ellipse cx="466.9" cy="558.4" rx="4.4" ry="6.3" fill="#ececec" stroke="#222" stroke-width="1.1"/>
<path d="M468.6,553.5 A3.5,5 0 0 0 468.6,563.5" fill="none" stroke="#222" stroke-width="1"/>
<line x1="471.5" y1="562.5" x2="478" y2="562.5" stroke="#222" stroke-width="0.9"/>
<rect x="478" y="550.6" width="12.6" height="16" fill="#ebebed" stroke="#222" stroke-width="0.9"/>
<line x1="478" y1="562.5" x2="490.6" y2="562.5" stroke="#222" stroke-width="0.8"/>
<rect x="490.6" y="551.4" width="1.7" height="14.6" fill="#ebebed" stroke="#222" stroke-width="0.8"/>
<rect x="492.3" y="549.5" width="16.6" height="17.5" fill="#ebebed" stroke="#222" stroke-width="0.9"/>
<rect x="508.9" y="548" width="18.3" height="20.7" fill="url(#k12)" stroke="#222" stroke-width="1"/>
<line x1="508.9" y1="548" x2="508.9" y2="568.7" stroke="#222" stroke-width="1.5"/>
<line x1="527.2" y1="548" x2="527.2" y2="568.7" stroke="#222" stroke-width="1.5"/>
<line x1="509.1" y1="548" x2="509.1" y2="568.7" stroke="#222" stroke-width="1.5"/>
<path d="M527.2,551.8 H532.4 V564.9 H527.2" fill="#f4f4f4" stroke="#222" stroke-width="0.9"/>
<path d="M532.4,553.2 Q535.6,557.9 532.4,563.4" fill="#f4f4f4" stroke="#222" stroke-width="0.8"/>
<line x1="440" y1="557.5" x2="539.1" y2="557.5" stroke="#222" stroke-width="0.9"/>
<rect x="374.5" y="582.6" width="177.1" height="15.2" fill="#ebebed" stroke="#999" stroke-width="1.3"/>
<line x1="374.5" y1="583" x2="463.4" y2="583" stroke="#333" stroke-width="1"/>
<line x1="386.5" y1="583" x2="386.5" y2="592" stroke="#222" stroke-width="0.9"/>
<line x1="389.5" y1="583" x2="389.5" y2="597.8" stroke="#222" stroke-width="0.9"/>
<line x1="537.5" y1="583" x2="537.5" y2="597.8" stroke="#222" stroke-width="0.9"/>
<line x1="540.5" y1="583" x2="540.5" y2="592" stroke="#222" stroke-width="0.9"/>
<line x1="386.7" y1="591.5" x2="540.3" y2="591.5" stroke="#222" stroke-width="0.9" stroke-dasharray="48 2 30 2 70"/>
<path d="M22.4,582.9 H201.1 V598 H166.2 L164.6,596.3 H58.9 L57.3,598 H22.4 Z" fill="#ebebed" stroke="#999" stroke-width="1.2"/>
<line x1="57.3" y1="596.3" x2="166.2" y2="596.3" stroke="#222" stroke-width="1.5"/>
<path d="M29.4,582.9 V591.9 H46 V582.9 M32.6,591.9 V598 M42.2,591.9 V598" fill="none" stroke="#222" stroke-width="1"/>
<line x1="37.5" y1="578" x2="37.5" y2="603.3" stroke="#222" stroke-width="0.9"/>
<path d="M177.6,582.9 V591.9 H193.8 V582.9 M180.7,591.9 V598 M191.5,591.9 V598" fill="none" stroke="#222" stroke-width="1"/>
<line x1="185.5" y1="578" x2="185.5" y2="603.3" stroke="#222" stroke-width="0.9"/>
<rect x="82.5" y="485.1" width="89" height="97.5" fill="#ebebed" stroke="#555" stroke-width="1"/>
<line x1="82.5" y1="494.5" x2="171.5" y2="494.5" stroke="#222" stroke-width="1"/>
<line x1="82.5" y1="530.5" x2="171.5" y2="530.5" stroke="#222" stroke-width="1"/>
<line x1="82.5" y1="538.5" x2="171.5" y2="538.5" stroke="#222" stroke-width="1"/>
<line x1="82.5" y1="574" x2="171.5" y2="574" stroke="#222" stroke-width="1.6"/>
<line x1="82.5" y1="554.4" x2="82.5" y2="582.3" stroke="#222" stroke-width="1.6"/>
<path d="M89.6,574 V562.3 H162.4 V574" fill="#f0f0f0" stroke="#222" stroke-width="1.5"/>
<line x1="101.5" y1="562.3" x2="101.5" y2="574" stroke="#222" stroke-width="0.9"/>
<line x1="104.5" y1="562.3" x2="104.5" y2="574" stroke="#222" stroke-width="0.9"/>
<line x1="148.5" y1="562.3" x2="148.5" y2="574" stroke="#222" stroke-width="0.9"/>
<line x1="151.5" y1="562.3" x2="151.5" y2="574" stroke="#222" stroke-width="0.9"/>
<path d="M102.8,565.8 l1.3,2.2 l-1.3,2.2 l-1.3,-2.2 Z" fill="#fff" stroke="#222" stroke-width="0.5"/>
<path d="M149.7,565.8 l1.3,2.2 l-1.3,2.2 l-1.3,-2.2 Z" fill="#fff" stroke="#222" stroke-width="0.5"/>
<circle cx="96.2" cy="568.2" r="3.8" fill="#eee" stroke="#222" stroke-width="0.9"/>
<circle cx="96.2" cy="568.2" r="2.1" fill="none" stroke="#222" stroke-width="0.81"/>
<circle cx="96.2" cy="568.2" r="0.7" fill="#222"/>
<circle cx="110.2" cy="568.2" r="3.8" fill="#eee" stroke="#222" stroke-width="0.9"/>
<circle cx="110.2" cy="568.2" r="2.1" fill="none" stroke="#222" stroke-width="0.81"/>
<circle cx="110.2" cy="568.2" r="0.7" fill="#222"/>
<circle cx="143.2" cy="568.2" r="3.8" fill="#eee" stroke="#222" stroke-width="0.9"/>
<circle cx="143.2" cy="568.2" r="2.1" fill="none" stroke="#222" stroke-width="0.81"/>
<circle cx="143.2" cy="568.2" r="0.7" fill="#222"/>
<circle cx="157" cy="568.2" r="3.8" fill="#eee" stroke="#222" stroke-width="0.9"/>
<circle cx="157" cy="568.2" r="2.1" fill="none" stroke="#222" stroke-width="0.81"/>
<circle cx="157" cy="568.2" r="0.7" fill="#222"/>
<path d="M82.5,556 h-2.4 a2.4,5 0 0 0 0,10 h2.4" fill="#ebebed" stroke="#222" stroke-width="0.8"/>
<line x1="75.3" y1="561.5" x2="85.6" y2="561.5" stroke="#222" stroke-width="0.9"/>
<line x1="81.5" y1="554.4" x2="81.5" y2="565.8" stroke="#222" stroke-width="0.9"/>
<path d="M82.5,572.7 h-2.2 a2.3,4 0 0 0 0,8 h2.2" fill="#ebebed" stroke="#222" stroke-width="0.8"/>
<rect x="126.6" y="509.4" width="36.9" height="28.6" fill="#eee" stroke="#222" stroke-width="1" rx="3.5"/>
<line x1="127" y1="538" x2="163" y2="538" stroke="#222" stroke-width="1.5"/>
<rect x="128.9" y="514.1" width="32.7" height="5.6" fill="#f6f6f6" stroke="#222" stroke-width="0.9" rx="2.8"/>
<circle cx="145.3" cy="516.9" r="3.7" fill="#f4f4f4" stroke="#222" stroke-width="0.9"/>
<circle cx="145.3" cy="516.9" r="2" fill="none" stroke="#222" stroke-width="0.8"/>
<line x1="138" y1="516.5" x2="152.6" y2="516.5" stroke="#222" stroke-width="0.9"/>
<line x1="145.5" y1="510.8" x2="145.5" y2="523" stroke="#222" stroke-width="0.9"/>
<circle cx="132.6" cy="532.4" r="4.3" fill="#f2f2f2" stroke="#222" stroke-width="0.9"/>
<circle cx="132.6" cy="532.4" r="2.5" fill="none" stroke="#222" stroke-width="0.81"/>
<circle cx="146.6" cy="532.4" r="4.3" fill="#f2f2f2" stroke="#222" stroke-width="0.9"/>
<circle cx="146.6" cy="532.4" r="2.5" fill="none" stroke="#222" stroke-width="0.81"/>
<rect x="171.5" y="503.5" width="14.2" height="34.3" fill="#ebebed" stroke="#666" stroke-width="1"/>
<rect x="171.5" y="540.5" width="25.8" height="31.4" fill="#ebebed" stroke="#666" stroke-width="1"/>
<line x1="181.5" y1="540.5" x2="181.5" y2="571.9" stroke="#222" stroke-width="1"/>
<path d="M197.3,547.1 H203 Q216.8,548.5 215.6,557.9 Q216.8,567.6 203,569.2 H197.3 Z" fill="#e8e8e8" stroke="#222" stroke-width="1"/>
<path d="M201.5,547.4 Q208,557.9 201.5,569" fill="none" stroke="#222" stroke-width="0.9"/>
<path d="M205,547.6 Q217,549 215.6,557.9 Q217,567.2 205,568.8 Q211.6,557.9 205,547.6 Z" fill="url(#h13)" stroke="#222" stroke-width="1"/>
<path d="M209.6,549 Q215.4,557.9 209.6,567.2" fill="none" stroke="#222" stroke-width="0.8"/>
<line x1="191.2" y1="557.5" x2="219.8" y2="557.5" stroke="#222" stroke-width="0.9"/>
<rect x="185.7" y="506.6" width="12" height="15" fill="#ebebed" stroke="#222" stroke-width="0.9"/>
<rect x="197.7" y="505.1" width="2.8" height="18" fill="#ebebed" stroke="#222" stroke-width="0.9"/>
<rect x="200.5" y="505.1" width="15.9" height="18" fill="#ebebed" stroke="#222" stroke-width="0.9"/>
<rect x="216.4" y="504.4" width="19.6" height="20" fill="url(#k14)" stroke="#222" stroke-width="1"/>
<line x1="216.4" y1="504.4" x2="216.4" y2="524.4" stroke="#222" stroke-width="1.5"/>
<line x1="236" y1="504.4" x2="236" y2="524.4" stroke="#222" stroke-width="1.5"/>
<line x1="216.4" y1="514.5" x2="236" y2="514.5" stroke="#222" stroke-width="0.9"/>
<path d="M236,507.6 H239.7 V521.6 H236" fill="#f4f4f4" stroke="#222" stroke-width="0.9"/>
<path d="M239.7,509 Q243.2,514.5 239.7,520.2" fill="#f4f4f4" stroke="#222" stroke-width="0.8"/>
<line x1="236.2" y1="504.4" x2="236.2" y2="524.4" stroke="#222" stroke-width="1.5"/>
<line x1="180.8" y1="514.5" x2="246.3" y2="514.5" stroke="#222" stroke-width="0.9"/>
<rect x="104.7" y="396.8" width="10.6" height="12.4" fill="#ebebed" stroke="#222" stroke-width="0.9"/>
<rect x="103.3" y="377.4" width="16.8" height="19.4" fill="#ebebed" stroke="#222" stroke-width="0.9"/>
<rect x="102.1" y="358.7" width="19.4" height="18.7" fill="url(#k15)" stroke="#222" stroke-width="1"/>
<line x1="102.1" y1="358.7" x2="121.5" y2="358.7" stroke="#222" stroke-width="1.5"/>
<line x1="102.1" y1="377.4" x2="121.5" y2="377.4" stroke="#222" stroke-width="1.5"/>
<path d="M105.2,358.7 V355.1 A2,2 0 0 1 107.2,353.1 H116.3 A2,2 0 0 1 118.3,355.1 V358.7" fill="#f4f4f4" stroke="#222" stroke-width="0.9"/>
<line x1="111.5" y1="348.4" x2="111.5" y2="414.8" stroke="#222" stroke-width="0.9"/>
<rect x="96.7" y="408.8" width="18.8" height="76.3" fill="#ebebed" stroke="#555" stroke-width="1"/>
<line x1="96.7" y1="431.5" x2="115.5" y2="431.5" stroke="#222" stroke-width="1"/>
<path d="M115.7,485.1 V394.2 L126.5,384.5 H156.5 V473 H146.8 V485.1 Z" fill="#ebebed" stroke="#222" stroke-width="1"/>
<line x1="146.8" y1="384.5" x2="146.8" y2="395" stroke="#222" stroke-width="1.5"/>
<line x1="146.8" y1="427.9" x2="146.8" y2="485.1" stroke="#222" stroke-width="1.5"/>
<line x1="156.4" y1="361.5" x2="156.4" y2="473" stroke="#222" stroke-width="1.3"/>
<line x1="163.5" y1="448" x2="163.5" y2="473" stroke="#222" stroke-width="1"/>
<line x1="146.8" y1="473.5" x2="163.6" y2="473.5" stroke="#222" stroke-width="1"/>
<rect x="127.7" y="394.2" width="28.3" height="33.7" fill="#eee" stroke="#222" stroke-width="1" rx="3.5"/>
<rect x="132" y="396.6" width="5.2" height="29.4" fill="#f6f6f6" stroke="#222" stroke-width="0.9" rx="2.6"/>
<circle cx="134.6" cy="411" r="3.5" fill="#f4f4f4" stroke="#222" stroke-width="0.9"/>
<circle cx="134.6" cy="411" r="1.9" fill="none" stroke="#222" stroke-width="0.8"/>
<line x1="127.7" y1="411.5" x2="142.6" y2="411.5" stroke="#222" stroke-width="0.9"/>
<line x1="134.5" y1="403.2" x2="134.5" y2="417.6" stroke="#222" stroke-width="0.9"/>
<circle cx="150.5" cy="399.3" r="4.3" fill="#f2f2f2" stroke="#222" stroke-width="0.9"/>
<circle cx="150.5" cy="399.3" r="2.5" fill="none" stroke="#222" stroke-width="0.81"/>
<circle cx="150.5" cy="412.9" r="4.3" fill="#f2f2f2" stroke="#222" stroke-width="0.9"/>
<circle cx="150.5" cy="412.9" r="2.5" fill="none" stroke="#222" stroke-width="0.81"/>
<path d="M156.5,473 V364 L160,360.6 H208.3 V384.9 H216.4 V473 H204.2 L200.5,468.3 V448 H163.6 V473 Z" fill="#ebebed" stroke="#666" stroke-width="0.9"/>
<line x1="208.6" y1="360.6" x2="208.6" y2="473" stroke="#777" stroke-width="1"/>
<line x1="201.2" y1="361" x2="201.2" y2="468.3" stroke="#555" stroke-width="0.9"/>
<path d="M156.8,473 V364 L160,360.6 H208.6" fill="none" stroke="#222" stroke-width="1"/>
<path d="M167,360.2 H197 A3,3 0 0 1 200.1,363.2 V444.4 A4,4 0 0 1 196.1,448.4 H168 A4,4 0 0 1 164,444.4 V363.2 A3,3 0 0 1 167,360.2 Z" fill="#ececec" stroke="#222" stroke-width="1.4"/>
<path d="M165.9,364 V444 M198.2,364 V444" fill="none" stroke="#555" stroke-width="0.7"/>
<line x1="167.8" y1="359.3" x2="184.6" y2="359.3" stroke="#222" stroke-width="1.6"/>
<path d="M185.5,359.6 Q186,357.6 189.2,357.6 Q192.6,357.6 193,359.6" fill="#f4f4f4" stroke="#222" stroke-width="0.8"/>
<path d="M183.6,360.6 A101.3,101.3 0 0 0 175.6,382.6" fill="none" stroke="#222" stroke-width="0.9"/>
<path d="M175.6,427.4 A101.3,101.3 0 0 0 182.7,448.4" fill="none" stroke="#222" stroke-width="0.9"/>
<rect x="165" y="383.4" width="34" height="43.5" fill="#efefef" stroke="#222" stroke-width="1" rx="3"/>
<circle cx="168.1" cy="386.7" r="2.7" fill="#ddd" stroke="#222" stroke-width="0.8"/>
<circle cx="168.1" cy="386.7" r="1.5" fill="none" stroke="#222" stroke-width="0.72"/>
<circle cx="168.1" cy="423.6" r="2.7" fill="#ddd" stroke="#222" stroke-width="0.8"/>
<circle cx="168.1" cy="423.6" r="1.5" fill="none" stroke="#222" stroke-width="0.72"/>
<circle cx="197.7" cy="385.8" r="1.6" fill="#ddd" stroke="#222" stroke-width="0.7"/>
<circle cx="197.7" cy="423.2" r="1.6" fill="#ddd" stroke="#222" stroke-width="0.7"/>
<path d="M170.3,391.4 H179.5 Q181.6,405.4 179.5,419.4 H170.3 A2.5,2.5 0 0 1 167.8,416.9 V393.9 A2.5,2.5 0 0 1 170.3,391.4 Z" fill="#f6f6f6" stroke="#222" stroke-width="0.9"/>
<line x1="174.2" y1="394.5" x2="177.6" y2="394.5" stroke="#222" stroke-width="0.5"/>
<line x1="174.2" y1="396.5" x2="176.6" y2="396.5" stroke="#222" stroke-width="0.5"/>
<line x1="174.2" y1="398.5" x2="176.6" y2="398.5" stroke="#222" stroke-width="0.5"/>
<line x1="174.2" y1="401.5" x2="176.6" y2="401.5" stroke="#222" stroke-width="0.5"/>
<line x1="174.2" y1="403.5" x2="176.6" y2="403.5" stroke="#222" stroke-width="0.5"/>
<line x1="174.2" y1="405.5" x2="177.6" y2="405.5" stroke="#222" stroke-width="0.5"/>
<line x1="174.2" y1="407.5" x2="176.6" y2="407.5" stroke="#222" stroke-width="0.5"/>
<line x1="174.2" y1="409.5" x2="176.6" y2="409.5" stroke="#222" stroke-width="0.5"/>
<line x1="174.2" y1="411.5" x2="176.6" y2="411.5" stroke="#222" stroke-width="0.5"/>
<line x1="174.2" y1="413.5" x2="176.6" y2="413.5" stroke="#222" stroke-width="0.5"/>
<line x1="174.2" y1="416.5" x2="177.6" y2="416.5" stroke="#222" stroke-width="0.5"/>
<line x1="176.5" y1="394" x2="176.5" y2="417" stroke="#222" stroke-width="0.6"/>
<path d="M186.3,389.6 Q186.2,386.6 189.6,386.6 Q193,386.6 192.9,390 Q192.2,396 190.6,400.5 L187.9,400.5 Q186.6,394 186.3,389.6 Z" fill="#f6f6f6" stroke="#222" stroke-width="0.9"/>
<path d="M186.3,420.4 Q186.2,423.4 189.6,423.4 Q193,423.4 192.9,420 Q192.2,414 190.6,409.5 L187.9,409.5 Q186.6,416 186.3,420.4 Z" fill="#f6f6f6" stroke="#222" stroke-width="0.9"/>
<circle cx="188.5" cy="404.9" r="7.5" fill="#f6f6f6" stroke="#222" stroke-width="1"/>
<line x1="188.5" y1="394.9" x2="188.5" y2="414.4" stroke="#222" stroke-width="2"/>
<line x1="167.8" y1="405.5" x2="200" y2="405.5" stroke="#222" stroke-width="0.9"/>
<rect x="173.4" y="448.6" width="17.3" height="21.6" fill="#ebebed" stroke="#222" stroke-width="0.9"/>
<line x1="172.5" y1="449.6" x2="191.5" y2="449.6" stroke="#222" stroke-width="1.6"/>
<rect x="172.4" y="470.2" width="19.7" height="19.2" fill="url(#k16)" stroke="#222" stroke-width="1"/>
<line x1="172.4" y1="470.2" x2="192.1" y2="470.2" stroke="#222" stroke-width="1.5"/>
<line x1="172.4" y1="489.4" x2="192.1" y2="489.4" stroke="#222" stroke-width="1.5"/>
<rect x="175.8" y="489.4" width="13.1" height="5.1" fill="#f2f2f2" stroke="#222" stroke-width="0.9"/>
<line x1="182.5" y1="438.4" x2="182.5" y2="500.7" stroke="#222" stroke-width="0.9"/>
<rect x="208.6" y="384.4" width="8.3" height="88.4" fill="#fbfbfb"/>
<line x1="208.6" y1="384.5" x2="216.9" y2="384.5" stroke="#222" stroke-width="0.9"/>
<rect x="216.9" y="384.9" width="20" height="80" fill="#ebebed" stroke="#222" stroke-width="1"/>
<line x1="216.4" y1="384.9" x2="238" y2="384.9" stroke="#222" stroke-width="1.5"/>
<line x1="237.6" y1="386" x2="237.6" y2="464.9" stroke="#999" stroke-width="1"/>
<line x1="216.9" y1="429.5" x2="236.9" y2="429.5" stroke="#222" stroke-width="1"/>
<line x1="216.9" y1="446.5" x2="216.9" y2="473" stroke="#222" stroke-width="1.4"/>
<g clip-path="url(#cpD)">
<rect x="216.4" y="372" width="22.4" height="12.9" fill="url(#k17)" stroke="#222" stroke-width="0"/>
</g>
<path d="M216.4,384.9 V380.4 Q216.8,376.4 221.6,374 Q227.6,371.6 233.6,374 Q238.4,376.4 238.8,380.4 V384.9" fill="none" stroke="#222" stroke-width="1"/>
<line x1="216.4" y1="384.6" x2="238.8" y2="384.6" stroke="#222" stroke-width="1.5"/>
<line x1="227.5" y1="365.2" x2="227.5" y2="385.8" stroke="#222" stroke-width="0.9"/>
<line x1="237.5" y1="386" x2="237.5" y2="398" stroke="#222" stroke-width="1.3"/>
<rect x="243.6" y="436.4" width="62.3" height="9.8" fill="#ebebed" stroke="#222" stroke-width="1"/>
<rect x="268.5" y="433.3" width="12.5" height="6.2" fill="#ebebed" stroke="#222" stroke-width="0.9"/>
<rect x="236.9" y="446.2" width="69" height="18.7" fill="#ebebed" stroke="#222" stroke-width="1"/>
<line x1="236.6" y1="446.2" x2="305.9" y2="446.2" stroke="#222" stroke-width="1.6"/>
<line x1="224.9" y1="458.5" x2="305.9" y2="458.5" stroke="#222" stroke-width="1"/>
<rect x="217.9" y="446.2" width="6.8" height="18.7" fill="#ebebed" stroke="#222" stroke-width="1.2"/>
<line x1="224.7" y1="464.5" x2="236.9" y2="464.5" stroke="#222" stroke-width="1"/>
<path d="M305.9,454.8 Q308.8,455.2 308.6,458.3 Q308.8,461.4 305.9,461.8 Z" fill="#aaa" stroke="#222" stroke-width="0.9"/>
<line x1="208" y1="466.2" x2="232" y2="466.2" stroke="#555" stroke-width="1.2"/>
<line x1="262" y1="465.6" x2="268" y2="465.6" stroke="#555" stroke-width="1"/>
<line x1="167.8" y1="405.5" x2="243.5" y2="405.5" stroke="#222" stroke-width="0.9"/>
<line x1="111.5" y1="348.4" x2="111.5" y2="414.8" stroke="#222" stroke-width="0.9"/>
<line x1="115.5" y1="352.5" x2="334.8" y2="352.5" stroke="#222" stroke-width="0.9"/>
<line x1="330.5" y1="352.7" x2="330.5" y2="597.2" stroke="#222" stroke-width="0.9"/>
<path d="M330.6,352.7 L331.5,358.2 L329.7,358.2 Z" fill="#222"/>
<path d="M330.6,597.2 L329.7,591.7 L331.5,591.7 Z" fill="#222"/>
<text transform="translate(327.1 473.4) rotate(-90) scale(0.8 1)" font-family="&quot;Liberation Sans&quot;, sans-serif" font-size="15.2" text-anchor="middle" fill="#222" dx="0 0 0 0 5.5">165.5</text>
<line x1="312.5" y1="405.6" x2="312.5" y2="597.2" stroke="#222" stroke-width="0.9"/>
<path d="M312.5,405.6 L313.4,411.1 L311.6,411.1 Z" fill="#222"/>
<path d="M312.5,597.2 L311.6,591.7 L313.4,591.7 Z" fill="#222"/>
<text transform="translate(308.9 501.8) rotate(-90) scale(0.78 1)" font-family="&quot;Liberation Sans&quot;, sans-serif" font-size="14.8" text-anchor="middle" fill="#222">130</text>
<line x1="205.1" y1="597.5" x2="335.1" y2="597.5" stroke="#222" stroke-width="0.9"/>
<circle cx="274.5" cy="404.9" r="7.2" fill="#fff" stroke="#222" stroke-width="0.9"/>
<path d="M274.5,404.9 L267.3,404.9 A7.2,7.2 0 0 1 274.5,397.7 Z" fill="#333"/>
<path d="M274.5,404.9 L281.7,404.9 A7.2,7.2 0 0 1 274.5,412.1 Z" fill="#333"/>
<line x1="245.2" y1="404.5" x2="285.7" y2="404.5" stroke="#222" stroke-width="0.9"/>
<line x1="290.3" y1="404.5" x2="318" y2="404.5" stroke="#222" stroke-width="0.9"/>
<line x1="274.5" y1="394" x2="274.5" y2="471.9" stroke="#222" stroke-width="0.9"/>
<line x1="274.5" y1="476.7" x2="274.5" y2="625.4" stroke="#222" stroke-width="0.9"/>
<line x1="22.5" y1="602.4" x2="22.5" y2="626.8" stroke="#222" stroke-width="0.9"/>
<line x1="22.4" y1="621.5" x2="274.5" y2="621.5" stroke="#222" stroke-width="0.9"/>
<path d="M22.4,621.2 L27.9,620.3 L27.9,622.1 Z" fill="#222"/>
<path d="M274.5,621.2 L269,622.1 L269,620.3 Z" fill="#222"/>
<text transform="translate(147.9 618.6) scale(0.79 1)" font-family="&quot;Liberation Sans&quot;, sans-serif" font-size="14.6" text-anchor="middle" fill="#222">170</text>
<line x1="337.8" y1="621.5" x2="374.5" y2="621.5" stroke="#222" stroke-width="0.9"/>
<line x1="359.5" y1="420.7" x2="359.5" y2="621.2" stroke="#222" stroke-width="0.9"/>
<path d="M359.6,621.2 L354.6,622.1 L354.6,620.3 Z" fill="#222"/>
<path d="M374.5,621.2 L379.5,620.3 L379.5,622.1 Z" fill="#222"/>
<text transform="translate(343.9 618.2) scale(0.79 1)" font-family="&quot;Liberation Sans&quot;, sans-serif" font-size="14.6" text-anchor="middle" fill="#222">10</text>
<line x1="374.5" y1="598" x2="374.5" y2="624.2" stroke="#222" stroke-width="0.9"/>
<line x1="551.5" y1="598" x2="551.5" y2="624.2" stroke="#222" stroke-width="0.9"/>
<line x1="374.5" y1="621.5" x2="551.6" y2="621.5" stroke="#222" stroke-width="0.9"/>
<path d="M374.5,621.2 L380,620.3 L380,622.1 Z" fill="#222"/>
<path d="M551.6,621.2 L546.1,622.1 L546.1,620.3 Z" fill="#222"/>
<text transform="translate(463 618.2) scale(0.79 1)" font-family="&quot;Liberation Sans&quot;, sans-serif" font-size="14.6" text-anchor="middle" fill="#222">120</text>
<text transform="translate(275 332.2)" font-family="&quot;Liberation Sans&quot;, &quot;Noto Sans CJK TC&quot;, sans-serif" font-size="14.2" text-anchor="start" fill="#222" font-weight="300">旋轉中心</text>
<line x1="270.3" y1="336.5" x2="336.6" y2="336.5" stroke="#222" stroke-width="0.9"/>
<line x1="336.6" y1="336.4" x2="357.4" y2="397" stroke="#222" stroke-width="0.9"/>
<path d="M357.4,397 L354.31,391.72 L356.58,390.94 Z" fill="#222"/>
</svg>
</body>
</html>
